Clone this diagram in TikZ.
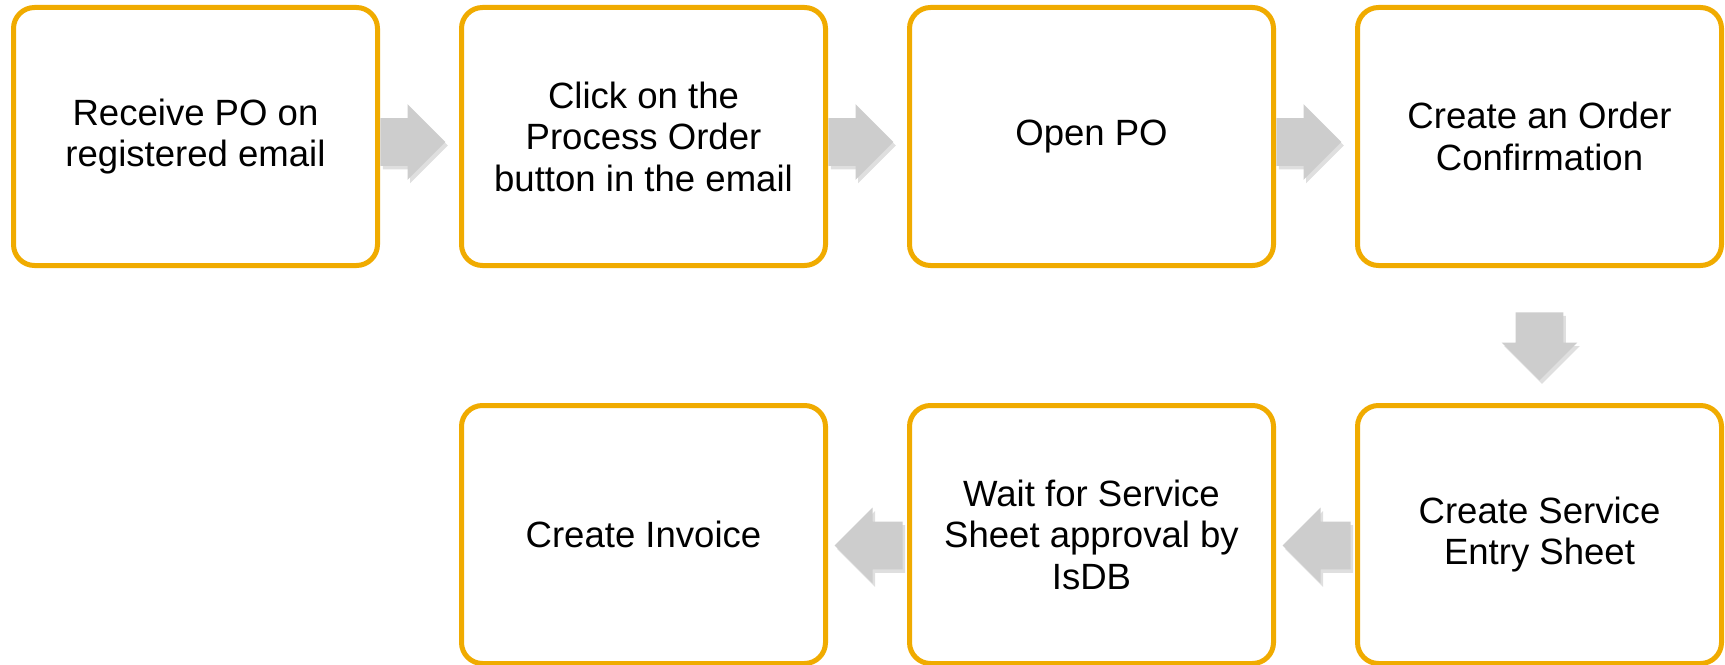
\documentclass[tikz,border=0pt]{standalone}
\usepackage{fontspec}
\setmainfont{Liberation Sans}
\usepackage{xcolor}
\definecolor{gold}{HTML}{F0AB00}
\definecolor{arrowgrey}{HTML}{CDCDCD}
\usetikzlibrary{shapes.arrows,positioning,calc,shadows}

\begin{document}
\begin{tikzpicture}[
  node distance=2.7cm and 1.58cm,
  stepbox/.style={
    rectangle, rounded corners=0.42cm, draw=gold, fill=white,
    line width=0.1cm, align=center, font=\fontsize{20.8}{23.6}\selectfont,
    minimum width=7.28cm, minimum height=5.16cm, inner sep=2pt
  },
  flowarr/.style={
    single arrow, fill=arrowgrey, draw=none, anchor=tail,
    minimum height=1.32cm, minimum width=1.5cm,
    single arrow head extend=0.28cm, inner xsep=0pt, inner ysep=0.47cm,
    drop shadow={opacity=0.25, shadow xshift=0.05cm, shadow yshift=-0.07cm}
  },
  vflowarr/.style={flowarr, shape border rotate=270, inner xsep=0.47cm, inner ysep=0pt}
]
\useasboundingbox (0,0) rectangle (34.5,-13.28);

\node[stepbox, anchor=north west] (p1) at (0.22,-0.10) {Receive PO on\\registered email};
\node[stepbox, right=of p1] (p2) {Click on the\\Process Order\\button in the email};
\node[stepbox, right=of p2] (p3) {Open PO};
\node[stepbox, right=of p3] (p4) {Create an Order\\Confirmation};
\node[stepbox, below=of p4] (p5) {Create Service\\Entry Sheet};
\node[stepbox, left=of p5] (p6) {Wait for Service\\Sheet approval by\\IsDB};
\node[stepbox, left=of p6] (p7) {Create Invoice};

% connectors: grey block arrows
\foreach \a in {p1, p2, p3}
  \node[flowarr, minimum height=1.3cm] (a\a) at ($(\a.east)+(0,-0.11)$) {};
\node[vflowarr, minimum height=1.36cm] (ap4) at ($(p4.south)+(0,-0.88)$) {};
\foreach \a in {p5, p6}
  \node[flowarr, shape border rotate=180, minimum height=1.36cm] (a\a) at ($(\a.west)+(-0.08,-0.22)$) {};

\end{tikzpicture}
\end{document}
